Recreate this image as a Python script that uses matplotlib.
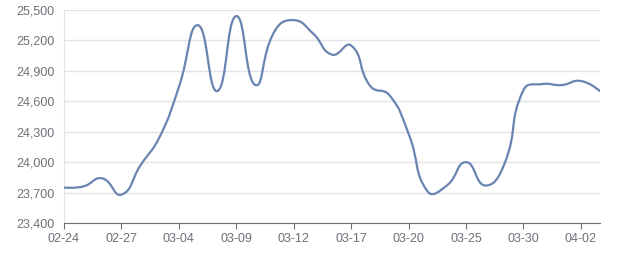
import matplotlib.pyplot as plt
from matplotlib.path import Path
from matplotlib.patches import PathPatch
import numpy as np

dates = ['02-24', '02-25', '02-26', '02-27', '02-28', '03-03', '03-04', '03-05', '03-06',
         '03-09', '03-10', '03-11', '03-12', '03-13', '03-14', '03-17', '03-18', '03-19',
         '03-20', '03-21', '03-24', '03-25', '03-26', '03-27', '03-30', '03-31', '04-01',
         '04-02', '04-03']
prices = [23750, 23760, 23840, 23680, 23970, 24250, 24740, 25350, 24700,
          25440, 24760, 25290, 25400, 25270, 25060, 25150, 24750, 24660,
          24280, 23710, 23770, 24000, 23770, 23980, 24710, 24770, 24760,
          24800, 24700]
yticks = [23400, 23700, 24000, 24300, 24600, 24900, 25200, 25500]

line_col = '#6a84b2'
txt_col = '#6e7079'
grid_col = '#e2e4ea'

fig = plt.figure(figsize=(6.4, 2.7), dpi=100)
ax = fig.add_axes([0.1, 0.174, 0.8375, 0.789])

x = np.arange(len(prices), dtype=float)
y = np.array(prices, dtype=float)

# echarts-style bezier smoothing, done in roughly pixel-scaled units
sx, sy = 19.15, 30.4 / 300.0
px, py = x * sx, y * sy
smooth = 0.5
cps_in, cps_out = [], []
n = len(px)
for i in range(n):
    p = np.array([px[i], py[i]])
    if i == 0 or i == n - 1:
        cps_in.append(p)
        cps_out.append(p)
        continue
    prev = np.array([px[i - 1], py[i - 1]])
    nxt = np.array([px[i + 1], py[i + 1]])
    v = (nxt - prev) * smooth
    d0 = np.hypot(*(p - prev))
    d1 = np.hypot(*(nxt - p))
    cps_in.append(p - v * d0 / (d0 + d1))
    cps_out.append(p + v * d1 / (d0 + d1))

verts = [(x[0], y[0])]
codes = [Path.MOVETO]
for i in range(n - 1):
    c1 = cps_out[i]
    c2 = cps_in[i + 1]
    verts += [(c1[0] / sx, c1[1] / sy), (c2[0] / sx, c2[1] / sy), (x[i + 1], y[i + 1])]
    codes += [Path.CURVE4] * 3
ax.add_patch(PathPatch(Path(verts, codes), facecolor='none', edgecolor=line_col, lw=1.6,
                       capstyle='round', joinstyle='round', zorder=3))

ax.set_xlim(0, n - 1)
ax.set_ylim(23400, 25500)
ax.set_yticks(yticks)
ax.set_yticklabels([f'{v:,}' for v in yticks])
ax.set_xticks(x[::3])
ax.set_xticklabels(dates[::3])

ax.grid(axis='y', color=grid_col, lw=1)
ax.set_axisbelow(True)
for s in ['top', 'right']:
    ax.spines[s].set_visible(False)
ax.spines['left'].set_color(grid_col)
ax.spines['bottom'].set_color(txt_col)
ax.tick_params(axis='y', length=0, pad=7, labelsize=9, labelcolor=txt_col)
ax.tick_params(axis='x', length=4, color=txt_col, pad=3, labelsize=9, labelcolor=txt_col)
for lab in ax.get_xticklabels() + ax.get_yticklabels():
    lab.set_fontfamily('Liberation Sans')

plt.savefig('out.png', dpi=100)
